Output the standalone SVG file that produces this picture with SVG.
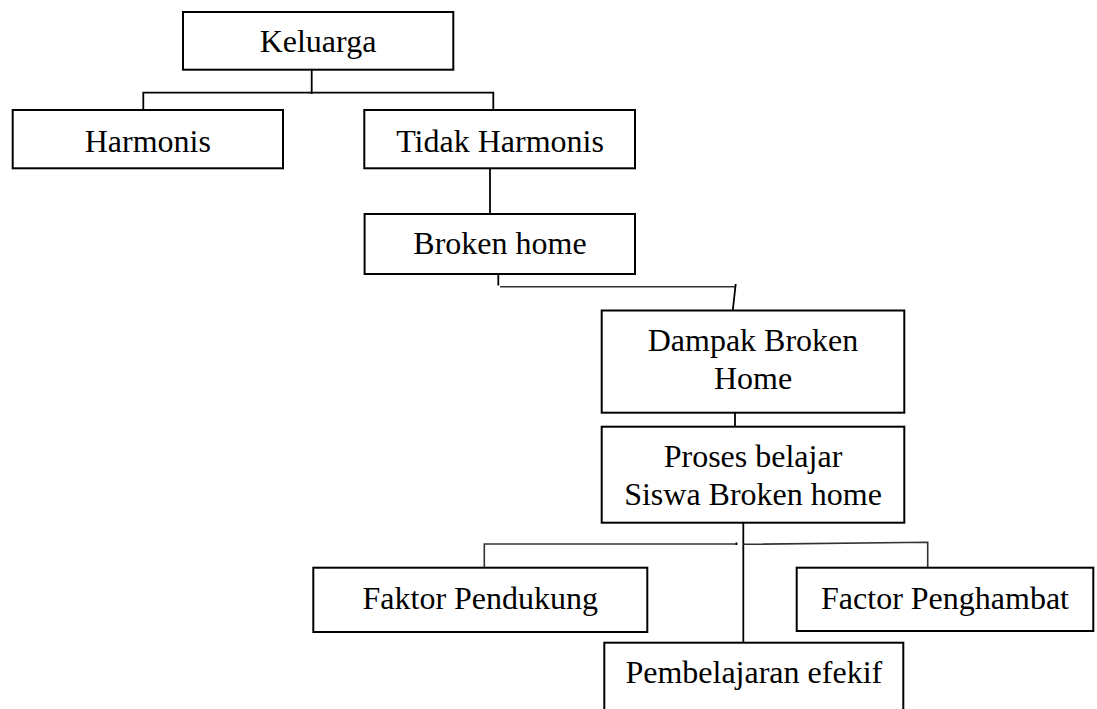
<svg xmlns="http://www.w3.org/2000/svg" width="1097" height="709" viewBox="0 0 1097 709">
<style>
.box{fill:#fff;stroke:#000;stroke-width:2}
.t{font-family:"Liberation Serif","Times New Roman",serif;font-size:32px;fill:#000;text-anchor:middle}
.c{fill:none;stroke:#000;stroke-width:1.8}
.c2{fill:none;stroke:#333;stroke-width:1.6}
</style>
<rect width="1097" height="709" fill="#fff"/>
<g id="connectors">
<path class="c" d="M311.7,70 V94"/>
<path class="c" d="M143.3,110 V92.7 H493.3 V110"/>
<path class="c" d="M490,168 V214"/>
<path class="c" d="M498.3,274 V285.5"/>
<path class="c2" d="M500,286.7 H735.7"/>
<path class="c" d="M735.7,284 L732.7,311"/>
<path class="c" d="M735,412.7 V426.7"/>
<path class="c" d="M743.3,522.7 V644.5"/>
<path class="c2" d="M484.3,567.5 V544 H736"/>
<path class="c" d="M736.5,542.5 V545"/>
<path class="c2" d="M743.3,544.3 L927.7,542.3 V567.7"/>
</g>
<g id="keluarga"><rect class="box" x="183" y="12" width="270.3" height="57.7"/><text class="t" x="318" y="52.3">Keluarga</text></g>
<g id="harmonis"><rect class="box" x="12.7" y="110" width="270.3" height="58.3"/><text class="t" x="147.8" y="151.7">Harmonis</text></g>
<g id="tidak-harmonis"><rect class="box" x="364.3" y="110" width="270.7" height="58.3"/><text class="t" x="500" y="151.7">Tidak Harmonis</text></g>
<g id="broken-home"><rect class="box" x="364.6" y="214" width="270.4" height="60"/><text class="t" x="500" y="254">Broken home</text></g>
<g id="dampak"><rect class="box" x="601.7" y="310.5" width="302.6" height="102.2"/><text class="t" x="753" y="350.7">Dampak Broken</text><text class="t" x="753" y="389.3">Home</text></g>
<g id="proses"><rect class="box" x="601.7" y="426.7" width="302.6" height="96"/><text class="t" x="753" y="466.7">Proses belajar</text><text class="t" x="753" y="505.3">Siswa Broken home</text></g>
<g id="faktor-pendukung"><rect class="box" x="313.3" y="567.7" width="334" height="64.3"/><text class="t" x="480.3" y="609.3">Faktor Pendukung</text></g>
<g id="factor-penghambat"><rect class="box" x="796.7" y="567.7" width="296.6" height="63.3"/><text class="t" x="945" y="609.3">Factor Penghambat</text></g>
<g id="pembelajaran"><rect class="box" x="604.3" y="642.7" width="299" height="80"/><text class="t" x="753.8" y="682.7">Pembelajaran efekif</text></g>
</svg>
